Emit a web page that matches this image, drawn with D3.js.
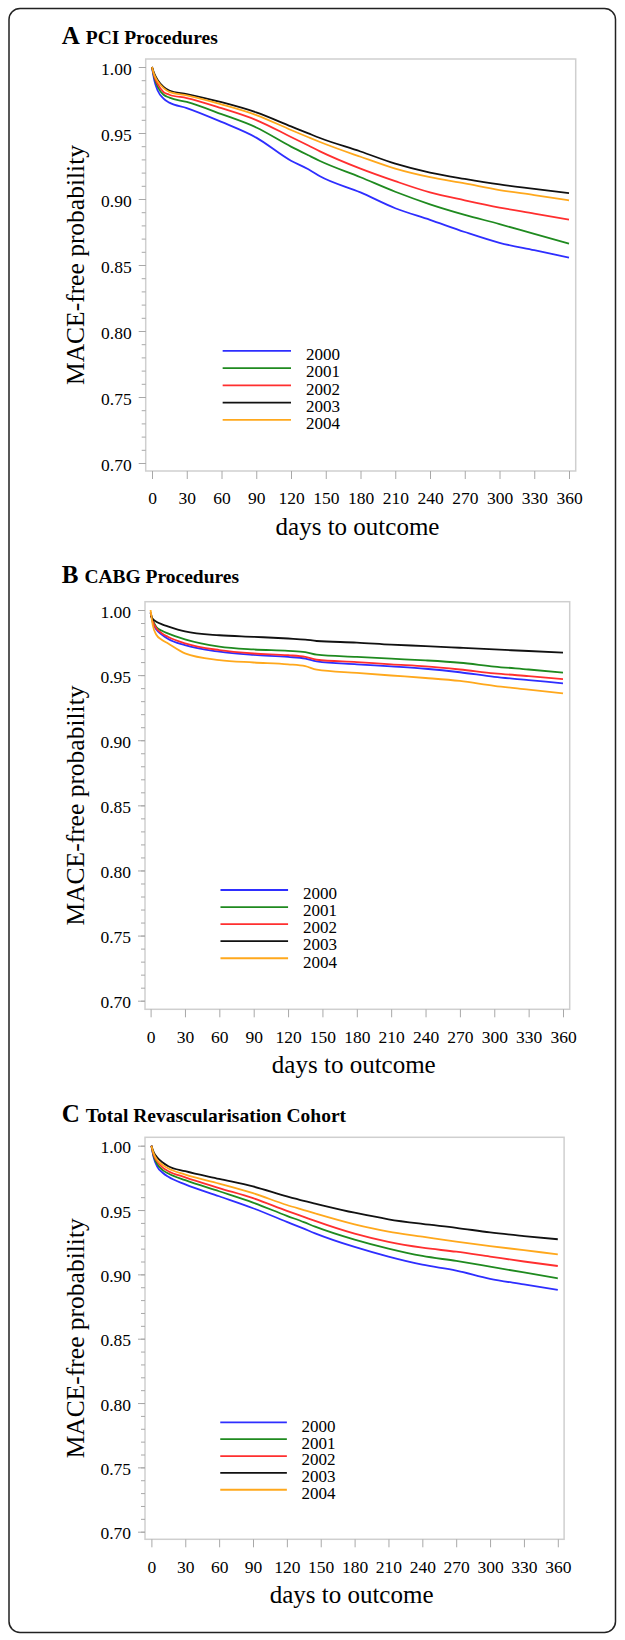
<!DOCTYPE html>
<html>
<head>
<meta charset="utf-8">
<script src="https://cdn.jsdelivr.net/npm/d3@7"></script>
<style>
  body { margin: 0; background: #fff; }
  svg { display: block; }
  text { font-family: "Liberation Serif", "Times New Roman", serif; fill: #000; }
</style>
</head>
<body>
<svg id="chart" width="625" height="1640"></svg>
<script>
var days = [0, 2, 5, 10, 15, 30, 60, 90, 120, 135, 145, 180, 210, 240, 270, 300, 330, 360];
var years = ["2000", "2001", "2002", "2003", "2004"];
var xTicks = [0, 30, 60, 90, 120, 150, 180, 210, 240, 270, 300, 330, 360];
var yTicks = [0.70, 0.75, 0.80, 0.85, 0.90, 0.95, 1.00];

// A: PCI
var pci2000 = [1.0, 0.990, 0.982, 0.976, 0.9730, 0.9689, 0.9584, 0.9465, 0.9290, 0.9225, 0.9172, 0.9050, 0.8930, 0.8842, 0.8750, 0.8668, 0.8612, 0.8556];
var pci2001 = [1.0, 0.992, 0.985, 0.979, 0.9768, 0.9735, 0.9643, 0.9542, 0.9397, 0.9331, 0.9288, 0.9165, 0.9055, 0.8960, 0.8880, 0.8810, 0.8735, 0.8662];
var pci2002 = [1.0, 0.993, 0.987, 0.981, 0.9790, 0.9765, 0.9688, 0.9598, 0.9470, 0.9405, 0.9361, 0.9230, 0.9135, 0.9050, 0.8990, 0.8935, 0.8890, 0.8844];
var pci2003 = [1.0, 0.995, 0.990, 0.985, 0.9822, 0.9795, 0.9733, 0.9656, 0.9550, 0.9497, 0.9462, 0.9360, 0.9268, 0.9200, 0.9152, 0.9110, 0.9077, 0.9045];
var pci2004 = [1.0, 0.994, 0.989, 0.984, 0.9812, 0.9785, 0.9717, 0.9636, 0.9523, 0.9468, 0.9432, 0.9320, 0.9230, 0.9165, 0.9118, 0.9068, 0.9030, 0.8990];

// B: CABG
var cabg2000 = [0.998, 0.990, 0.985, 0.981, 0.9780, 0.9730, 0.9680, 0.9655, 0.9640, 0.9627, 0.9605, 0.9583, 0.9567, 0.9549, 0.9522, 0.9487, 0.9462, 0.9437];
var cabg2001 = [0.998, 0.992, 0.987, 0.984, 0.9820, 0.9775, 0.9719, 0.9697, 0.9686, 0.9677, 0.9657, 0.9640, 0.9626, 0.9613, 0.9595, 0.9566, 0.9543, 0.9519];
var cabg2002 = [0.998, 0.991, 0.986, 0.982, 0.9795, 0.9744, 0.9692, 0.9666, 0.9653, 0.9640, 0.9618, 0.9600, 0.9582, 0.9567, 0.9543, 0.9514, 0.9492, 0.9470];
var cabg2003 = [0.9955, 0.993, 0.991, 0.989, 0.9875, 0.9836, 0.9806, 0.9794, 0.9781, 0.9773, 0.9762, 0.9750, 0.9734, 0.9723, 0.9710, 0.9697, 0.9685, 0.9672];
var cabg2004 = [1.0, 0.988, 0.981, 0.977, 0.9744, 0.9667, 0.9615, 0.9597, 0.9583, 0.9569, 0.9542, 0.9517, 0.9497, 0.9478, 0.9455, 0.9418, 0.9389, 0.9360];

// C: total revascularisation cohort
var total2000 = [1.0, 0.991, 0.984, 0.979, 0.9758, 0.9699, 0.9607, 0.9514, 0.9408, 0.9355, 0.9319, 0.9213, 0.9138, 0.9075, 0.9030, 0.8965, 0.8922, 0.8879];
var total2001 = [1.0, 0.992, 0.986, 0.981, 0.9784, 0.9732, 0.9646, 0.9558, 0.9455, 0.9406, 0.9371, 0.9270, 0.9200, 0.9143, 0.9104, 0.9060, 0.9015, 0.8969];
var total2002 = [1.0, 0.993, 0.988, 0.983, 0.9802, 0.9754, 0.9671, 0.9592, 0.9494, 0.9447, 0.9415, 0.9316, 0.9252, 0.9207, 0.9176, 0.9138, 0.9100, 0.9065];
var total2003 = [1.0, 0.995, 0.991, 0.987, 0.9841, 0.9802, 0.9742, 0.9683, 0.9606, 0.9571, 0.9550, 0.9479, 0.9428, 0.9392, 0.9362, 0.9326, 0.9298, 0.9273];
var total2004 = [1.0, 0.994, 0.989, 0.985, 0.9823, 0.9776, 0.9706, 0.9631, 0.9539, 0.9500, 0.9474, 0.9389, 0.9332, 0.9293, 0.9254, 0.9220, 0.9188, 0.9156];

var colors = ["#2e2eff", "#1f8a1f", "#ff2f2f", "#111111", "#ffa81c"];

var panels = [
  { letter: "A", title: "PCI Procedures", series: [pci2000, pci2001, pci2002, pci2003, pci2004],
    titleY: 44, frame: [145.7, 59, 575.7, 471], xr: [152, 569], yr: [463, 67] },
  { letter: "B", title: "CABG Procedures", series: [cabg2000, cabg2001, cabg2002, cabg2003, cabg2004],
    titleY: 583, frame: [145, 601.7, 569.7, 1009.3], xr: [150.6, 563], yr: [1000.7, 610] },
  { letter: "C", title: "Total Revascularisation Cohort", series: [total2000, total2001, total2002, total2003, total2004],
    titleY: 1121.7, frame: [145, 1137.3, 564.1, 1539.3], xr: [151.4, 557.8], yr: [1531.7, 1145.7] }
];

var svg = d3.select('#chart');

svg.append('rect')
  .attr('x', 9).attr('y', 8.5)
  .attr('width', 606.5).attr('height', 1624)
  .attr('rx', 11).attr('ry', 11)
  .attr('fill', 'none').attr('stroke', '#222').attr('stroke-width', 1.5);

panels.forEach(function(p) {
  var g = svg.append('g');
  var f = p.frame;
  var x = d3.scaleLinear().domain([0, 360]).range(p.xr);
  var y = d3.scaleLinear().domain([0.70, 1.00]).range(p.yr);

  // title
  var t = g.append('text').attr('x', 61.7).attr('y', p.titleY).attr('font-weight', 'bold');
  t.append('tspan').attr('font-size', 25).text(p.letter);
  t.append('tspan').attr('font-size', 19.5).attr('dx', 6).text(p.title);

  // plot frame
  g.append('rect')
    .attr('x', f[0]).attr('y', f[1])
    .attr('width', f[2] - f[0]).attr('height', f[3] - f[1])
    .attr('fill', 'none').attr('stroke', '#cfcfcf').attr('stroke-width', 1.5);

  // y axis, minor then major ticks
  var minor = d3.range(70, 101).map(function(v) { return v / 100; });
  g.append('g')
    .attr('transform', 'translate(' + f[0] + ',0)')
    .call(d3.axisLeft(y).tickValues(minor).tickSize(4).tickFormat(''))
    .call(function(a) { a.select('.domain').remove(); a.selectAll('line').attr('stroke', '#a8a8a8'); });
  var ya = g.append('g')
    .attr('transform', 'translate(' + f[0] + ',0)')
    .call(d3.axisLeft(y).tickValues(yTicks).tickSize(7).tickPadding(7).tickFormat(d3.format('.2f')));
  ya.select('.domain').remove();
  ya.selectAll('line').attr('stroke', '#a8a8a8');
  ya.selectAll('text').attr('font-size', 17.5).attr('font-family', null).attr('dy', '0.4em');

  // x axis
  var xa = g.append('g')
    .attr('transform', 'translate(0,' + f[3] + ')')
    .call(d3.axisBottom(x).tickValues(xTicks).tickSize(8).tickPadding(13));
  xa.select('.domain').remove();
  xa.selectAll('line').attr('stroke', '#a8a8a8');
  xa.selectAll('text').attr('font-size', 17.5).attr('font-family', null);

  // axis titles
  g.append('text')
    .attr('x', (p.xr[0] + p.xr[1]) / 2 - 3).attr('y', f[3] + 64)
    .attr('text-anchor', 'middle').attr('font-size', 25)
    .text('days to outcome');
  g.append('text')
    .attr('transform', 'translate(84,' + ((f[1] + f[3]) / 2) + ') rotate(-90)')
    .attr('text-anchor', 'middle').attr('font-size', 25.5)
    .text('MACE-free probability');

  // curves
  var line = d3.line()
    .x(function(d, i) { return x(days[i]); })
    .y(function(d) { return y(d); })
    .curve(d3.curveMonotoneX);
  g.selectAll('.curve')
    .data(p.series)
    .enter().append('path')
    .attr('class', 'curve')
    .attr('d', line)
    .attr('fill', 'none')
    .attr('stroke', function(d, i) { return colors[i]; })
    .attr('stroke-width', 1.8);

  // legend, placed in data units inside the plot
  var ly = y(0.785);
  var step = y(0.70) - y(0.7131);
  var lg = g.selectAll('.leg')
    .data(years)
    .enter().append('g')
    .attr('class', 'leg')
    .attr('transform', function(d, i) { return 'translate(0,' + (ly + i * step) + ')'; });
  lg.append('line')
    .attr('x1', x(61)).attr('x2', x(120))
    .attr('stroke', function(d, i) { return colors[i]; })
    .attr('stroke-width', 1.8);
  lg.append('text')
    .attr('x', x(133)).attr('y', 9.3)
    .attr('font-size', 17)
    .text(function(d) { return d; });
});
</script>
</body>
</html>
